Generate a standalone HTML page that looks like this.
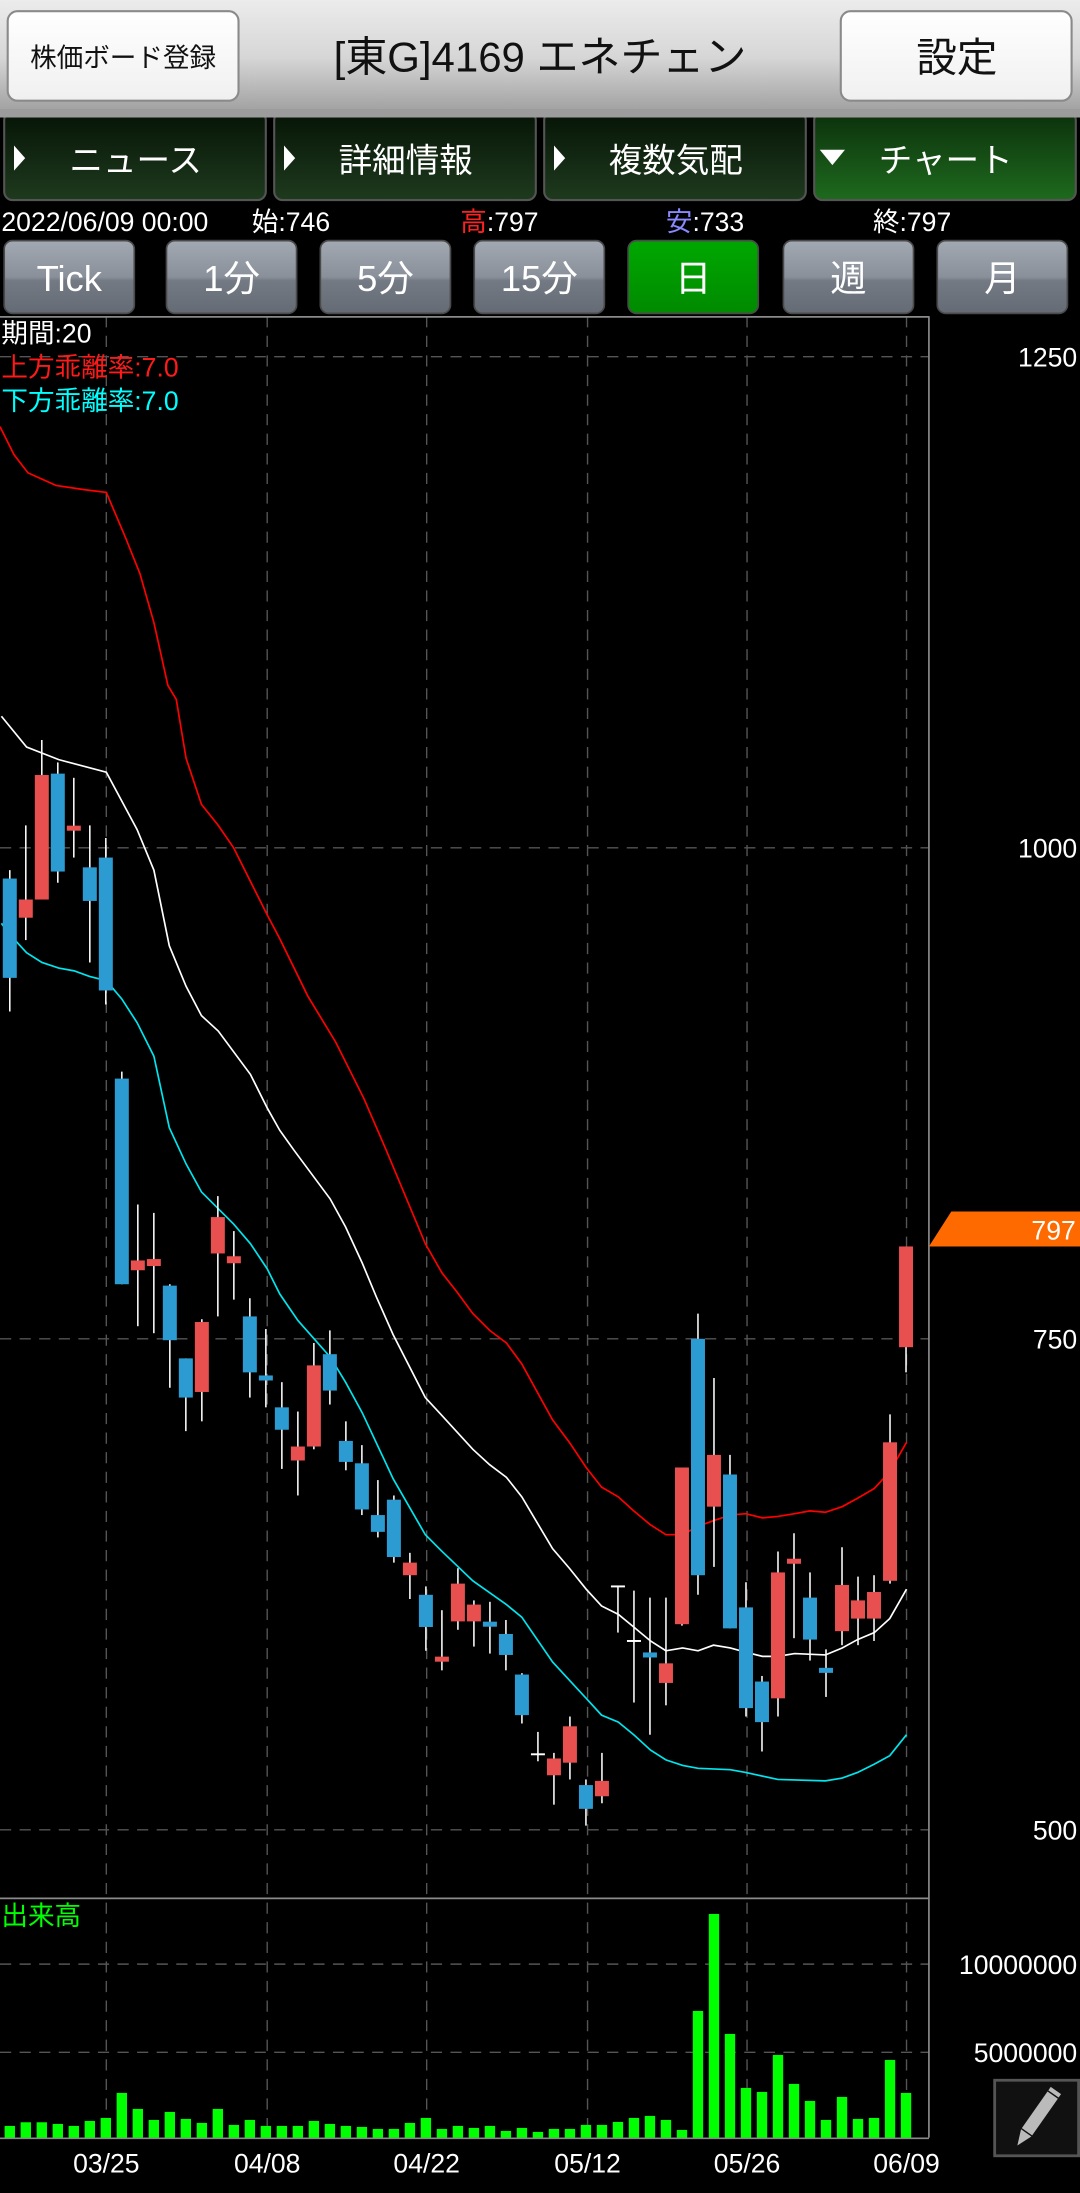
<!DOCTYPE html>
<html><head><meta charset="utf-8">
<style>
html,body{margin:0;padding:0;background:#000;}
svg{display:block;}
text{font-family:"Liberation Sans Narrow","Liberation Sans","Noto Sans CJK JP",sans-serif;}
</style></head>
<body>
<svg id="s" width="1080" height="2193" viewBox="0 0 772 1567.6" xmlns="http://www.w3.org/2000/svg">
<defs>
<linearGradient id="hdr" x1="0" y1="0" x2="0" y2="1"><stop offset="0" stop-color="#ececec"/><stop offset="0.5" stop-color="#d6d6d6"/><stop offset="1" stop-color="#9c9c9c"/></linearGradient>
<linearGradient id="btnw" x1="0" y1="0" x2="0" y2="1"><stop offset="0" stop-color="#ffffff"/><stop offset="1" stop-color="#f0f0f0"/></linearGradient>
<linearGradient id="tab" x1="0" y1="0" x2="0" y2="1"><stop offset="0" stop-color="#061406"/><stop offset="1" stop-color="#1e3a1e"/></linearGradient>
<linearGradient id="tabA" x1="0" y1="0" x2="0" y2="1"><stop offset="0" stop-color="#0c300c"/><stop offset="1" stop-color="#1e6a1e"/></linearGradient>
<linearGradient id="per" x1="0" y1="0" x2="0" y2="1"><stop offset="0" stop-color="#a3a9b3"/><stop offset="0.5" stop-color="#8a909a"/><stop offset="0.55" stop-color="#747a84"/><stop offset="1" stop-color="#656b75"/></linearGradient>
<linearGradient id="perA" x1="0" y1="0" x2="0" y2="1"><stop offset="0" stop-color="#00a800"/><stop offset="1" stop-color="#008a00"/></linearGradient>
</defs>
<rect x="0" y="0" width="772" height="1568" fill="#000"/>
<rect x="0" y="0" width="772" height="83" fill="url(#hdr)"/>
<rect x="5.5" y="8" width="165" height="64" rx="7" fill="url(#btnw)" stroke="#8a8a8a" stroke-width="1.5"/>
<text x="88" y="48" font-size="19" text-anchor="middle" fill="#111">株価ボード登録</text>
<text x="386" y="51" font-size="30" text-anchor="middle" fill="#111">[東G]4169 エネチェン</text>
<rect x="601" y="8" width="165" height="64" rx="7" fill="url(#btnw)" stroke="#8a8a8a" stroke-width="1.5"/>
<text x="684" y="51" font-size="29" text-anchor="middle" fill="#111">設定</text>
<g stroke="#555" stroke-width="1.5">
<rect x="3" y="80" width="187" height="63" rx="6" fill="url(#tab)"/>
<rect x="196" y="80" width="187" height="63" rx="6" fill="url(#tab)"/>
<rect x="389" y="80" width="187" height="63" rx="6" fill="url(#tab)"/>
<rect x="582" y="80" width="187" height="63" rx="6" fill="url(#tabA)"/>
</g>
<rect x="0" y="78" width="772" height="6" fill="#9c9c9c"/>
<g fill="#fff">
<polygon points="10,104 10,122 18,113"/>
<polygon points="203,104 203,122 211,113"/>
<polygon points="396,104 396,122 404,113"/>
<polygon points="586,107 604,107 595,118"/>
</g>
<g font-size="24" fill="#fff" text-anchor="middle">
<text x="97" y="123">ニュース</text>
<text x="290" y="123">詳細情報</text>
<text x="483" y="123">複数気配</text>
<text x="676" y="123">チャート</text>
</g>
<g font-size="19" fill="#fff">
<text x="1" y="165">2022/06/09 00:00</text>
<text x="180" y="165">始:746</text>
<text x="329" y="165"><tspan fill="#ff2020">高</tspan>:797</text>
<text x="476" y="165"><tspan fill="#8888ff">安</tspan>:733</text>
<text x="624" y="165">終:797</text>
</g>
<g stroke="#4a4a4a" stroke-width="1.2">
<rect x="3" y="172" width="93" height="52" rx="6" fill="url(#per)"/>
<rect x="119" y="172" width="93" height="52" rx="6" fill="url(#per)"/>
<rect x="229" y="172" width="93" height="52" rx="6" fill="url(#per)"/>
<rect x="339" y="172" width="93" height="52" rx="6" fill="url(#per)"/>
<rect x="449" y="172" width="93" height="52" rx="6" fill="url(#perA)"/>
<rect x="560" y="172" width="93" height="52" rx="6" fill="url(#per)"/>
<rect x="670" y="172" width="93" height="52" rx="6" fill="url(#per)"/>
</g>
<g font-size="26" fill="#fff" text-anchor="middle">
<text x="49.5" y="208">Tick</text>
<text x="165.5" y="208">1分</text>
<text x="275.5" y="208">5分</text>
<text x="385.5" y="208">15分</text>
<text x="495.5" y="208">日</text>
<text x="606.5" y="208">週</text>
<text x="716.5" y="208">月</text>
</g>
<g stroke="#555" stroke-width="1" stroke-dasharray="8,6" fill="none">
<line x1="0" y1="255" x2="664" y2="255"/>
<line x1="0" y1="606" x2="664" y2="606"/>
<line x1="0" y1="957" x2="664" y2="957"/>
<line x1="0" y1="1308" x2="664" y2="1308"/>
<line x1="0" y1="1404" x2="664" y2="1404"/>
<line x1="0" y1="1467" x2="664" y2="1467"/>
<line x1="76" y1="226" x2="76" y2="1528"/>
<line x1="191" y1="226" x2="191" y2="1528"/>
<line x1="305" y1="226" x2="305" y2="1528"/>
<line x1="420" y1="226" x2="420" y2="1528"/>
<line x1="534" y1="226" x2="534" y2="1528"/>
<line x1="648" y1="226" x2="648" y2="1528"/>
</g>
<g stroke="#8a8a8a" stroke-width="1.2" fill="none">
<line x1="0" y1="226.5" x2="664" y2="226.5"/>
<line x1="664" y1="226" x2="664" y2="1528"/>
<line x1="0" y1="1357" x2="664" y2="1357"/>
<line x1="0" y1="1528.5" x2="664" y2="1528.5"/>
</g>
<g font-size="19">
<text x="1" y="245" fill="#fff">期間:20</text>
<text x="1" y="269" fill="#ff1a1a">上方乖離率:7.0</text>
<text x="1" y="293" fill="#00ffff">下方乖離率:7.0</text>
<text x="1" y="1376" fill="#00ff00">出来高</text>
</g>
<g font-size="19" fill="#fff" text-anchor="end">
<text x="770" y="262">1250</text>
<text x="770" y="613">1000</text>
<text x="770" y="964">750</text>
<text x="770" y="1315">500</text>
<text x="770" y="1411">10000000</text>
<text x="770" y="1474">5000000</text>
</g>
<g font-size="19" fill="#fff" text-anchor="middle">
<text x="76" y="1553">03/25</text>
<text x="191" y="1553">04/08</text>
<text x="305" y="1553">04/22</text>
<text x="420" y="1553">05/12</text>
<text x="534" y="1553">05/26</text>
<text x="648" y="1553">06/09</text>
</g>
<polygon points="664,891 680,866 772,866 772,891" fill="#ff6a00"/>
<text x="769" y="886" font-size="19" fill="#fff" text-anchor="end">797</text>
<rect x="711" y="1487" width="60" height="54" fill="#111" stroke="#555" stroke-width="2"/>
<g transform="translate(741,1514) rotate(35)">
<rect x="-4.5" y="-20" width="9" height="32" fill="#bbb"/>
<rect x="-4.5" y="-24" width="9" height="3" fill="#bbb"/>
<polygon points="-4.5,13 4.5,13 0,24" fill="#bbb"/>
</g>
<g id="plot"></g>
</svg>
<script>
var NS="http://www.w3.org/2000/svg",g=document.getElementById("plot");
function el(t,a){var e=document.createElementNS(NS,t);for(var k in a)e.setAttribute(k,a[k]);g.appendChild(e);return e;}
function line(pts,c){el("polyline",{points:pts.map(function(p){return p.join(",")}).join(" "),fill:"none",stroke:c,"stroke-width":"1.2"});}
line([[0,305],[10,325],[20,338],[40,347],[60,350],[76,352],[90,385],[100,410],[110,445],[120,490],[126,500],[133,542],[144,575],[156,590],[167,606],[179,630],[191,654],[200,671],[220,712],[240,745],[260,785],[276,822],[304,889],[316,910],[327,924],[338,939],[350,951],[362,960],[373,975],[395,1015],[407,1031],[419,1049],[430,1063],[442,1070],[453,1080],[465,1090],[476,1097],[488,1097],[499,1091],[510,1087],[522,1083],[533,1082],[545,1085],[556,1084],[568,1082],[579,1080],[590,1081],[602,1077],[613,1071],[625,1064],[636,1052],[648,1031]],"#ff0000");
line([[1,512],[19,534],[42,543],[76,552],[98,593],[110,622],[121,676],[133,705],[144,726],[156,737],[179,768],[191,792],[200,808],[210,822],[236,857],[247,877],[259,903],[269,927],[281,954],[304,999],[316,1012],[338,1036],[350,1047],[362,1056],[373,1070],[395,1107],[407,1121],[419,1136],[430,1148],[442,1154],[453,1163],[465,1173],[476,1180],[488,1178],[499,1180],[510,1176],[522,1178],[533,1181],[545,1184],[556,1184],[568,1182],[590,1183],[602,1178],[613,1172],[625,1167],[636,1157],[648,1136]],"#ffffff");
line([[1,660],[7,668],[19,681],[30,688],[42,692],[53,694],[64,698],[76,701],[87,714],[98,731],[110,755],[121,806],[133,832],[144,852],[156,864],[167,875],[179,889],[191,907],[200,925],[213,944],[236,970],[247,988],[259,1010],[281,1057],[304,1097],[316,1109],[338,1130],[362,1147],[373,1156],[395,1188],[407,1201],[419,1214],[430,1226],[442,1231],[453,1240],[465,1251],[476,1258],[488,1262],[499,1264],[522,1265],[533,1267],[556,1272],[590,1273],[602,1271],[613,1267],[625,1261],[636,1255],[648,1240]],"#00e5ee");
var C=[[628,699,622,723,"b"],[643,656,590,672,"r"],[554,643,529,643,"r"],[553,623,545,631,"b"],[592,592,556,613,"r"],[620,644,590,688,"b"],[613,708,599,718,"b"],[771,918,766,918,"b"],[901,908,861,948,"r"],[900,905,867,953,"r"],[919,958,918,992,"b"],[971,999,971,1023,"b"],[945,995,943,1016,"r"],[870,896,855,941,"r"],[898,903,880,929,"r"],[941,981,928,999,"b"],[985,985,950,1006,"b"],[1006,1022,988,1050,"b"],[1034,1044,1009,1069,"r"],[976,1034,960,1036,"r"],[968,994,951,1004,"b"],[1030,1045,1016,1051,"b"],[1046,1079,1033,1083,"b"],[1083,1095,1058,1099,"b"],[1072,1113,1069,1117,"b"],[1117,1126,1110,1143,"r"],[1140,1163,1134,1180,"b"],[1186,1186,1151,1194,"r"],[1132,1159,1121,1165,"r"],[1147,1159,1144,1177,"r"],[1161,1161,1145,1182,"b"],[1168,1183,1158,1194,"b"],[1197,1226,1196,1232,"b"],[1254,1254,1238,1259,"w"],[1257,1269,1253,1290,"r"],[1234,1260,1227,1272,"r"],[1276,1293,1272,1305,"b"],[1273,1284,1253,1289,"r"],[1134,1134,1134,1167,"w"],[1173,1173,1137,1217,"w"],[1183,1183,1142,1240,"b"],[1189,1203,1142,1219,"r"],[1049,1161,1049,1162,"r"],[957,1126,939,1140,"b"],[1040,1077,985,1120,"r"],[1054,1164,1040,1164,"b"],[1149,1221,1131,1227,"b"],[1202,1231,1198,1252,"b"],[1124,1214,1109,1227,"r"],[1116,1116,1096,1171,"r"],[1142,1172,1124,1187,"b"],[1194,1194,1179,1213,"b"],[1133,1166,1106,1176,"r"],[1144,1157,1127,1176,"r"],[1138,1157,1126,1173,"r"],[1031,1130,1011,1132,"r"],[891,963,891,981,"r"]];
var col={r:"#e84f4f",b:"#2b9bd1",w:"#ffffff"};
C.forEach(function(c,i){var x=7+i*11.44;
 el("line",{x1:x,y1:c[2],x2:x,y2:c[3],stroke:"#fff","stroke-width":"1.1"});
 var h=c[1]-c[0];if(h<3){var m=(c[0]+c[1])/2;el("rect",{x:x-5,y:m-(c[4]=="w"?0.7:1.8),width:10,height:(c[4]=="w"?1.4:3.6),fill:col[c[4]]});}
 else el("rect",{x:x-5,y:c[0],width:10,height:h,fill:col[c[4]]});});
var V=[798,787,787,792,798,783,774,699,747,780,756,777,789,747,795,780,798,798,798,783,792,798,801,807,807,789,774,807,798,804,798,813,804,816,807,807,795,795,786,774,768,780,810,453,162,522,684,696,585,672,723,780,711,777,774,600,699];
V.forEach(function(v,i){var x=7+i*11.44,t=(1860+v/3)/1.399;el("rect",{x:x-3.7,y:t,width:7.4,height:1528-t,fill:"#00ff00"});});
</script>
</body></html>
